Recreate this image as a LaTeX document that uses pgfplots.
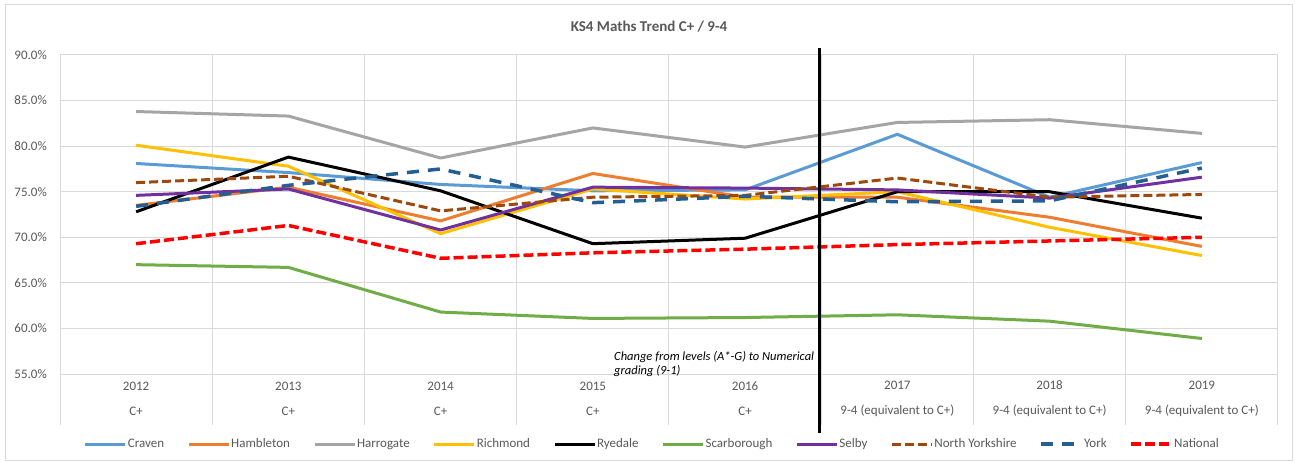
\documentclass[border=0pt]{standalone}
\usepackage{fontspec}
\setmainfont{Carlito}
\usepackage{pgfplots}
\pgfplotsset{compat=1.18}
\definecolor{craven}{HTML}{5B9BD5}
\definecolor{hambleton}{HTML}{ED7D31}
\definecolor{harrogate}{HTML}{A5A5A5}
\definecolor{richmond}{HTML}{FFC000}
\definecolor{scarborough}{HTML}{70AD47}
\definecolor{selby}{HTML}{7030A0}
\definecolor{nyorks}{HTML}{9E480E}
\definecolor{york}{HTML}{255E91}
\definecolor{national}{HTML}{FF0000}
\definecolor{gridc}{HTML}{D9D9D9}
\definecolor{tick}{HTML}{595959}
\begin{document}
\begin{tikzpicture}
\useasboundingbox (0bp,0bp) rectangle (1295bp,463bp);
\fill[white] (0bp,0bp) rectangle (1295bp,463bp);
\draw[gridc, line width=1bp] (5bp,2bp) rectangle (1292bp,458bp);
\node[font=\fontsize{15bp}{17bp}\selectfont\bfseries, text=tick] at (649bp,436bp) {KS4 Maths Trend C+ / 9-4};
\begin{axis}[
  at={(60bp,38bp)}, anchor=south west,
  width=1218bp, height=370bp, scale only axis,
  xmin=-0.5, xmax=7.5, ymin=49.41, ymax=90,
  clip=false,
  axis line style={draw=none},
  major tick length=0pt, minor tick length=0pt,
  xtick={0,1,2,3,4,5,6,7},
  minor xtick={-0.5,0.5,1.5,2.5,3.5,4.5,5.5,6.5,7.5},
  xticklabels={{2012\\C+},{2013\\C+},{2014\\C+},{2015\\C+},{2016\\C+},{2017\\9-4 (equivalent to C+)},{2018\\9-4 (equivalent to C+)},{2019\\9-4 (equivalent to C+)}},
  xticklabel style={font=\fontsize{13bp}{25bp}\selectfont, text=tick, align=center, anchor=center, yshift=26bp},
  ytick={55,60,65,70,75,80,85,90},
  yticklabels={55.0\%,60.0\%,65.0\%,70.0\%,75.0\%,80.0\%,85.0\%,90.0\%},
  yticklabel style={font=\fontsize{13bp}{15bp}\selectfont, text=tick, inner sep=0pt, xshift=-13bp},
  ymajorgrids, xminorgrids,
  major grid style={gridc, line width=1bp},
  minor grid style={gridc, line width=1bp},
  every axis plot/.append style={line width=3bp, line join=round},
  legend columns=10,
  legend style={at={(0.486,-0.0514)}, anchor=center, draw=none, fill=none,
    font=\fontsize{13bp}{15bp}\selectfont, text=tick,
    nodes={inner sep=1bp},
    /tikz/every even column/.append style={column sep=22bp}},
  legend image code/.code={\draw[#1] (0bp,0bp) -- (40bp,0bp);},
]
\addplot[craven] coordinates {(0,78.1) (1,77.1) (2,75.8) (3,75.1) (4,75.2) (5,81.3) (6,74.4) (7,78.2)};
\addlegendentry{Craven}
\addplot[hambleton] coordinates {(0,73.5) (1,75.5) (2,71.8) (3,77.0) (4,74.4) (5,74.4) (6,72.2) (7,69.0)};
\addlegendentry{Hambleton}
\addplot[harrogate] coordinates {(0,83.8) (1,83.3) (2,78.7) (3,82.0) (4,79.9) (5,82.6) (6,82.9) (7,81.4)};
\addlegendentry{Harrogate}
\addplot[richmond] coordinates {(0,80.1) (1,77.8) (2,70.4) (3,75.3) (4,74.2) (5,75.0) (6,71.1) (7,68.0)};
\addlegendentry{Richmond}
\addplot[black] coordinates {(0,72.8) (1,78.8) (2,75.1) (3,69.3) (4,69.9) (5,75.0) (6,75.0) (7,72.1)};
\addlegendentry{Ryedale}
\addplot[scarborough] coordinates {(0,67.0) (1,66.7) (2,61.8) (3,61.1) (4,61.2) (5,61.5) (6,60.8) (7,58.9)};
\addlegendentry{Scarborough}
\addplot[selby] coordinates {(0,74.6) (1,75.3) (2,70.8) (3,75.5) (4,75.4) (5,75.2) (6,74.3) (7,76.6)};
\addlegendentry{Selby}
\addplot[nyorks, dash pattern=on 9bp off 4bp] coordinates {(0,76.0) (1,76.7) (2,72.9) (3,74.4) (4,74.6) (5,76.5) (6,74.4) (7,74.7)};
\addlegendentry{North Yorkshire}
\addplot[york, line width=3.5bp, dash pattern=on 12bp off 9bp] coordinates {(0,73.4) (1,75.7) (2,77.5) (3,73.8) (4,74.5) (5,73.9) (6,74.0) (7,77.6)};
\addlegendentry{York}
\addplot[national, line width=3.5bp, dash pattern=on 10bp off 4bp] coordinates {(0,69.3) (1,71.3) (2,67.7) (3,68.3) (4,68.7) (5,69.2) (6,69.6) (7,70.0)};
\addlegendentry{National}
\draw[black, line width=3.5bp] (axis cs:4.49,90.77) -- (axis cs:4.49,48.55);
\node[anchor=west, align=left, font=\fontsize{12.5bp}{14bp}\selectfont\itshape, inner sep=0pt] at (axis cs:3.139,56.1) {Change from levels (A*-G) to Numerical\\grading (9-1)};
\end{axis}
\end{tikzpicture}
\end{document}
